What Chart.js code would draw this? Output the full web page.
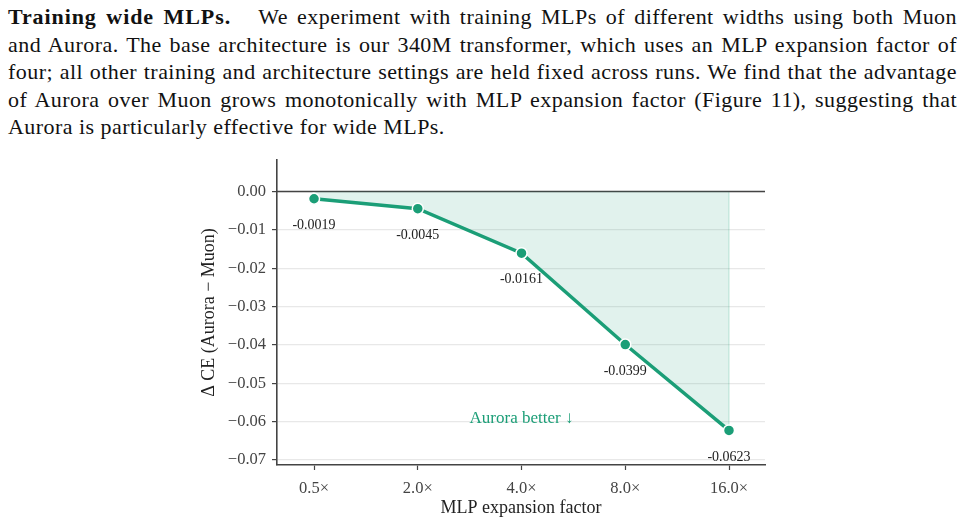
<!DOCTYPE html>
<html>
<head>
<meta charset="utf-8">
<script src="https://cdn.jsdelivr.net/npm/chart.js@4.4.0/dist/chart.umd.min.js"></script>
<style>
  body { margin: 0; background: #fff; width: 964px; height: 525px; overflow: hidden; position: relative; }
  #para { position: absolute; left: 8px; top: 3px; width: 949px; font-family: "Liberation Serif", serif; font-size: 22px; line-height: 27.5px; color: #111; letter-spacing: 0.45px; }
  #para div { text-align: justify; text-align-last: justify; white-space: nowrap; }
  #para div.last { text-align-last: left; }
  #para b { letter-spacing: 0.9px; }
  #box { position: absolute; left: 0; top: 150px; width: 964px; height: 375px; }
</style>
</head>
<body>
<div id="para">
  <div><b>Training wide MLPs.</b>&nbsp;&nbsp; We experiment with training MLPs of different widths using both Muon</div>
  <div>and Aurora. The base architecture is our 340M transformer, which uses an MLP expansion factor of</div>
  <div>four; all other training and architecture settings are held fixed across runs. We find that the advantage</div>
  <div>of Aurora over Muon grows monotonically with MLP expansion factor (Figure 11), suggesting that</div>
  <div class="last">Aurora is particularly effective for wide MLPs.</div>
</div>
<div id="box"><canvas id="myChart"></canvas></div>
<script>
// MLP expansion factors and the CE difference (Aurora - Muon)
const factors = ['0.5×', '2.0×', '4.0×', '8.0×', '16.0×'];
const deltaCE = [-0.0019, -0.0045, -0.0161, -0.0399, -0.0623];
const yTicks = [0, -0.01, -0.02, -0.03, -0.04, -0.05, -0.06, -0.07];

const green = '#1b9e77';
const serif = '"Liberation Serif", "Times New Roman", serif';

// labels under the points, the y=0 line, the note and axis titles
const extras = {
  id: 'extras',
  beforeDatasetsDraw(chart) {
    const {ctx, chartArea: a, scales: {x, y}} = chart;
    const y0 = y.getPixelForValue(0);
    ctx.save();
    // right edge of the shaded area
    const xl = x.getPixelForValue(deltaCE.length - 1);
    ctx.strokeStyle = 'rgba(27,158,119,0.22)';
    ctx.lineWidth = 1.2;
    ctx.beginPath();
    ctx.moveTo(xl, y0);
    ctx.lineTo(xl, y.getPixelForValue(deltaCE[deltaCE.length - 1]));
    ctx.stroke();
    ctx.strokeStyle = '#444';
    ctx.lineWidth = 1.6;
    ctx.beginPath();
    ctx.moveTo(a.left, y0);
    ctx.lineTo(a.right, y0);
    ctx.stroke();
    ctx.restore();
  },
  afterDatasetsDraw(chart) {
    const {ctx, chartArea: a, scales: {x, y}} = chart;
    ctx.save();
    ctx.textAlign = 'center';
    ctx.textBaseline = 'middle';
    ctx.fillStyle = '#222';
    ctx.font = '14px ' + serif;
    deltaCE.forEach((v, i) => {
      ctx.fillText(v.toFixed(4), x.getPixelForValue(i), y.getPixelForValue(v) + 26.5);
    });
    ctx.fillStyle = green;
    ctx.font = '17px ' + serif;
    ctx.fillText('Aurora better ↓', x.getPixelForValue(2), y.getPixelForValue(-0.0593));
    ctx.fillStyle = '#222';
    ctx.font = '18px ' + serif;
    ctx.fillText('MLP expansion factor', (a.left + a.right) / 2, 358);
    ctx.translate(209, (a.top + a.bottom) / 2);
    ctx.rotate(-Math.PI / 2);
    ctx.fillText('Δ CE (Aurora − Muon)', 0, 0);
    ctx.restore();
  }
};

const ctx = document.getElementById('myChart').getContext('2d');
const myChart = new Chart(ctx, {
  type: 'line',
  data: {
    datasets: [{
      data: deltaCE.map((v, i) => ({x: i, y: v})),
      borderColor: green,
      borderWidth: 3.5,
      backgroundColor: 'rgba(27,158,119,0.135)',
      fill: {value: 0},
      pointRadius: 5.5,
      pointBackgroundColor: green,
      pointBorderColor: '#fff',
      pointBorderWidth: 1.5,
      tension: 0
    }]
  },
  options: {
    responsive: true,
    maintainAspectRatio: false,
    animation: false,
    events: [],
    layout: { padding: { left: 0, right: 199, top: 10, bottom: 0 } },
    plugins: { legend: { display: false }, tooltip: { enabled: false } },
    scales: {
      x: {
        type: 'linear',
        min: -0.357,
        max: 4.347,
        afterBuildTicks: s => { s.ticks = factors.map((f, i) => ({value: i})); },
        afterFit: s => { s.height = 60; s.paddingLeft = 0; s.paddingRight = 0; },
        ticks: {
          callback: (v) => factors[v],
          color: '#444',
          font: { family: serif, size: 16.5 },
          padding: 9,
          maxRotation: 0
        },
        grid: { drawOnChartArea: false, drawTicks: true, tickLength: 5, tickColor: '#444', tickWidth: 1.2 },
        border: { display: true, color: '#444', width: 1.6 }
      },
      y: {
        min: -0.0713,
        max: 0.0082,
        afterBuildTicks: s => { s.ticks = yTicks.map(v => ({value: v})); },
        afterFit: s => { s.width = 277; s.paddingTop = 0; s.paddingBottom = 0; },
        ticks: {
          callback: v => (v < 0 ? '−' : '') + Math.abs(v).toFixed(2),
          color: '#444',
          font: { family: serif, size: 16.5 },
          padding: 6
        },
        grid: { color: '#e8e8e8', lineWidth: 1.2, tickLength: 5, tickColor: '#444', tickWidth: 1.2 },
        border: { display: true, color: '#444', width: 1.6 }
      }
    }
  },
  plugins: [extras]
});
</script>
</body>
</html>
